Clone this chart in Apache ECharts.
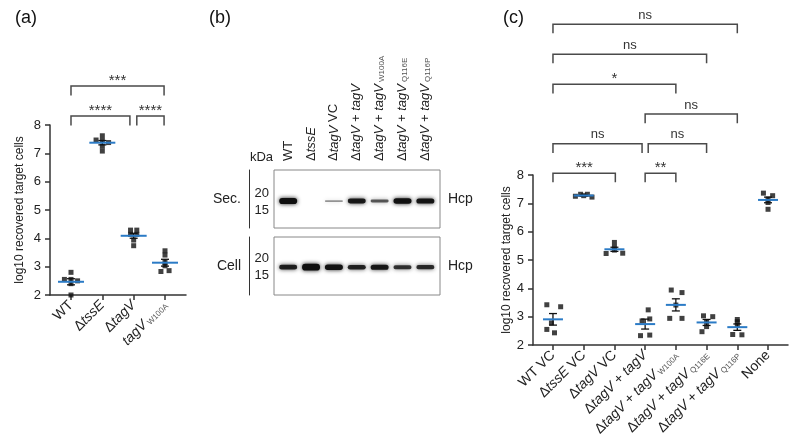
<!DOCTYPE html>
<html><head><meta charset="utf-8">
<script src="https://cdn.jsdelivr.net/npm/echarts@6/dist/echarts.min.js"></script>
<style>html,body{margin:0;padding:0;background:#fff}#c{width:800px;height:446px}</style>
</head><body><div id="c"></div>
<script>
const FF = '"Liberation Sans", Arial, Helvetica, sans-serif';
const BLUE = '#2b7bc6';

// ---------- Panel (a) ----------
const catsA = ['WT', 'Δ*tssE*', 'Δ*tagV*', '*tagV*_W100A'];
const valsA = [
  [2.80, 2.55, 2.55, 2.50, 2.40, 2.00],
  [7.62, 7.47, 7.45, 7.38, 7.25, 7.08],
  [4.29, 4.29, 4.14, 4.14, 3.94, 3.74],
  [3.56, 3.41, 3.15, 3.03, 2.83, 2.86]
];
const jitterA = [
  [0, -0.21, 0, 0.21, 0, 0],
  [0, -0.2, 0, 0.2, 0, 0],
  [-0.1, 0.1, -0.1, 0.1, 0, 0],
  [0, 0, 0, 0, -0.13, 0.13]
];
const bracketsA = [
  [1, 2.88, 8.32, '****'],
  [3.1, 3.97, 8.32, '****'],
  [1, 3.97, 9.38, '***']
];

// ---------- Panel (b) ----------
const lanesB = ['WT', 'Δ*tssE*', 'Δ*tagV* VC', 'Δ*tagV* + *tagV*', 'Δ*tagV* + *tagV*_W100A', 'Δ*tagV* + *tagV*_Q116E', 'Δ*tagV* + *tagV*_Q116P'];
const secIntensity = [0.95, 0, 0.32, 0.82, 0.55, 0.88, 0.85];
const cellIntensity = [0.8, 1.0, 0.88, 0.78, 0.84, 0.7, 0.74];
const markerKDa = [20, 15];
const hcpKDa = [17.7, 17.3];
const rowsB = ['Sec.', 'Cell'];

// ---------- Panel (c) ----------
const catsC = ['WT VC', 'Δ*tssE* VC', 'Δ*tagV* VC', 'Δ*tagV* + *tagV*', 'Δ*tagV* + *tagV*_W100A', 'Δ*tagV* + *tagV*_Q116E', 'Δ*tagV* + *tagV*_Q116P', 'None'];
const valsC = [
  [3.42, 3.35, 2.78, 2.55, 2.43],
  [7.25, 7.32, 7.27, 7.32, 7.22],
  [5.62, 5.45, 5.35, 5.23, 5.24],
  [3.24, 2.92, 2.85, 2.33, 2.35],
  [3.94, 3.85, 3.41, 2.94, 2.94],
  [3.03, 3.00, 2.83, 2.65, 2.47],
  [2.90, 2.82, 2.70, 2.37, 2.36],
  [7.36, 7.27, 7.15, 7.03, 6.79]
];
const jitterC = [
  [-0.2, 0.25, -0.05, -0.2, 0.05],
  [-0.27, -0.1, 0, 0.12, 0.27],
  [0, 0, 0, -0.27, 0.27],
  [0.1, 0.15, -0.1, -0.15, 0.15],
  [-0.15, 0.2, 0, -0.2, 0.2],
  [-0.1, 0.2, 0, 0, -0.15],
  [0, 0, 0, -0.15, 0.15],
  [-0.15, 0.15, 0, 0, 0]
];
const bracketsC = [
  [1, 3.03, 8.06, '***'],
  [4, 5, 8.06, '**'],
  [1, 3.9, 9.1, 'ns'],
  [4.1, 6, 9.1, 'ns'],
  [4, 7, 10.15, 'ns'],
  [1, 5, 11.2, '*'],
  [1, 6, 12.26, 'ns'],
  [1, 7, 13.32, 'ns']
];
const yTicks = [2, 3, 4, 5, 6, 7, 8];
const yName = 'log10 recovered target cells';

// ---------- helpers ----------
function toRich(s) {
  let sub = '';
  const ui = s.indexOf('_');
  if (ui >= 0) { sub = s.slice(ui + 1); s = s.slice(0, ui); }
  let out = '';
  s.split('*').forEach((p, k) => { if (p) out += '{' + (k % 2 ? 'i' : 'n') + '|' + p + '}'; });
  if (sub) out += '{s|' + sub + '}';
  return out;
}
function richStyles(fs) {
  return {
    n: { fontSize: fs, color: '#222', fontFamily: FF },
    i: { fontSize: fs, color: '#222', fontFamily: FF, fontStyle: 'italic' },
    s: { fontSize: Math.round(fs * 0.58), color: '#555', fontFamily: FF, verticalAlign: 'bottom', padding: [0, 0, 0, 2] }
  };
}
function stats(a) {
  const n = a.length, m = a.reduce((x, y) => x + y, 0) / n;
  const sd = Math.sqrt(a.reduce((x, y) => x + (y - m) * (y - m), 0) / (n - 1));
  return [m, sd / Math.sqrt(n)];
}
function pointData(vals, jit) {
  const d = [];
  vals.forEach((g, i) => g.forEach((v, j) => d.push([i + 1 + jit[i][j], v])));
  return d;
}
function meanSeries(xi, yi, vals, hw) {
  return {
    type: 'custom', xAxisIndex: xi, yAxisIndex: yi, z: 4, silent: true,
    data: vals.map((g, i) => { const s = stats(g); return [i + 1, s[0], s[1]]; }),
    renderItem: (p, api) => {
      const x = api.value(0), m = api.value(1), e = api.value(2);
      const pm = api.coord([x, m]), pt = api.coord([x, m + e]), pb = api.coord([x, m - e]);
      const cw = 4, st = { stroke: '#111', lineWidth: 1.3 };
      return { type: 'group', children: [
        { type: 'line', shape: { x1: pt[0], y1: pt[1], x2: pb[0], y2: pb[1] }, style: st },
        { type: 'line', shape: { x1: pt[0] - cw, y1: pt[1], x2: pt[0] + cw, y2: pt[1] }, style: st },
        { type: 'line', shape: { x1: pb[0] - cw, y1: pb[1], x2: pb[0] + cw, y2: pb[1] }, style: st },
        { type: 'line', shape: { x1: pm[0] - hw, y1: pm[1], x2: pm[0] + hw, y2: pm[1] }, style: { stroke: BLUE, lineWidth: 2 } }
      ]};
    }
  };
}
function bracketSeries(xi, yi, list, drop) {
  return {
    type: 'custom', xAxisIndex: xi, yAxisIndex: yi, clip: false, silent: true, z: 5,
    data: list.map(b => [b[0], b[1], b[2]]),
    encode: { x: [0, 1], y: 2 },
    renderItem: (p, api) => {
      const b = list[p.dataIndex];
      const a0 = api.coord([b[0], b[2] - drop]), a1 = api.coord([b[0], b[2]]);
      const a2 = api.coord([b[1], b[2]]), a3 = api.coord([b[1], b[2] - drop]);
      const star = b[3].indexOf('*') >= 0;
      return { type: 'group', children: [
        { type: 'polyline', shape: { points: [a0, a1, a2, a3] }, style: { stroke: '#4a4a4a', lineWidth: 1.5, fill: null } },
        { type: 'text', x: (a1[0] + a2[0]) / 2, y: a1[1] - (star ? 5 : 9),
          style: { text: b[3], fill: '#333', font: (star ? '15px ' : '13px ') + FF, align: 'center', verticalAlign: 'middle' } }
      ]};
    }
  };
}
function bandSeries(xi, yi, intens, kda) {
  return {
    type: 'custom', xAxisIndex: xi, yAxisIndex: yi, silent: true, z: 3,
    data: intens.map((v, i) => [i + 1, kda, v]),
    renderItem: (p, api) => {
      const v = api.value(2);
      if (v <= 0) return null;
      const c = api.coord([api.value(0), api.value(1)]);
      const w = 18, h = 1.2 + 5.5 * v * v;
      const a = Math.min(1, 0.1 + v);
      return { type: 'rect', shape: { x: c[0] - w / 2, y: c[1] - h / 2, width: w, height: h, r: h / 2 },
        style: { fill: 'rgba(15,15,15,' + a + ')', shadowBlur: 4, shadowColor: 'rgba(0,0,0,' + (a * 0.9) + ')' } };
    }
  };
}
const axisLineStyle = { lineStyle: { color: '#333', width: 1.5 } };
function catXAxis(grid, cats, min, max) {
  const idx = cats.map((c, i) => i + 1);
  return {
    gridIndex: grid, type: 'value', min: min, max: max, splitLine: { show: false },
    axisLine: axisLineStyle,
    axisTick: { customValues: idx, length: 5, lineStyle: { color: '#333', width: 1.5 } },
    axisLabel: { customValues: idx, rotate: 45, margin: 8, formatter: v => toRich(cats[Math.round(v) - 1]), rich: richStyles(14) }
  };
}
function valYAxis(grid, gap) {
  return {
    gridIndex: grid, type: 'value', min: 2, max: 8, interval: 1, splitLine: { show: false },
    axisLine: { show: true, lineStyle: { color: '#333', width: 1.5 } },
    axisTick: { show: true, length: 5, lineStyle: { color: '#333', width: 1.5 } },
    axisLabel: { margin: 9, color: '#222', fontSize: 13, fontFamily: FF },
    name: yName, nameLocation: 'middle', nameGap: gap,
    nameTextStyle: { fontSize: 12, color: '#222', fontFamily: FF }
  };
}
function kdaYAxis(grid, min, max, withName) {
  return {
    gridIndex: grid, type: 'value', min: min, max: max, splitLine: { show: false },
    axisLine: { show: false }, axisTick: { show: false },
    axisLabel: { customValues: markerKDa, margin: 5, color: '#222', fontSize: 13, fontFamily: FF },
    name: withName ? 'kDa' : '', nameLocation: 'end', nameGap: 6,
    nameTextStyle: { fontSize: 13, color: '#222', fontFamily: FF, align: 'right', verticalAlign: 'bottom', padding: [0, 1, 0, 0] }
  };
}
function rowYAxis(grid, name) {
  return {
    gridIndex: grid, type: 'value', min: 0, max: 1, position: 'left', offset: 25, splitLine: { show: false },
    axisLine: { show: true, lineStyle: { color: '#333', width: 1 } }, axisTick: { show: false }, axisLabel: { show: false },
    name: name, nameLocation: 'middle', nameRotate: 0, nameGap: 8,
    nameTextStyle: { fontSize: 14, color: '#222', fontFamily: FF }
  };
}
function hcpYAxis(grid) {
  return {
    gridIndex: grid, type: 'value', min: 0, max: 1, position: 'right', splitLine: { show: false },
    axisLine: { show: false }, axisTick: { show: false }, axisLabel: { show: false },
    name: 'Hcp', nameLocation: 'middle', nameRotate: 0, nameGap: 8,
    nameTextStyle: { fontSize: 14, color: '#222', fontFamily: FF }
  };
}
const laneIdx = lanesB.map((l, i) => i + 1);

const option = {
  backgroundColor: '#fff',
  animation: false,
  title: [
    { text: '(a)', left: 10, top: 4, textStyle: { fontSize: 18, fontWeight: 'normal', color: '#111', fontFamily: FF } },
    { text: '(b)', left: 204, top: 4, textStyle: { fontSize: 18, fontWeight: 'normal', color: '#111', fontFamily: FF } },
    { text: '(c)', left: 498, top: 4, textStyle: { fontSize: 18, fontWeight: 'normal', color: '#111', fontFamily: FF } }
  ],
  grid: [
    { left: 50, top: 125, width: 136, height: 170 },
    { left: 274, top: 170, width: 166, height: 58, show: true, borderColor: '#888', borderWidth: 1, backgroundColor: '#fff' },
    { left: 274, top: 237, width: 166, height: 58, show: true, borderColor: '#888', borderWidth: 1, backgroundColor: '#fff' },
    { left: 533, top: 175, width: 255, height: 170 }
  ],
  xAxis: [
    catXAxis(0, catsA, 0.33, 4.67),
    { gridIndex: 1, type: 'value', min: 0.38, max: 7.64, position: 'top', splitLine: { show: false },
      axisLine: { show: false }, axisTick: { show: false },
      axisLabel: { customValues: laneIdx, rotate: 90, margin: 9, formatter: v => toRich(lanesB[Math.round(v) - 1]), rich: richStyles(13) } },
    { gridIndex: 2, type: 'value', min: 0.38, max: 7.64, show: false },
    catXAxis(3, catsC, 0.35, 8.65)
  ],
  yAxis: [
    valYAxis(0, 24),
    kdaYAxis(1, 9.7, 26.9, true),
    rowYAxis(1, rowsB[0]),
    hcpYAxis(1),
    kdaYAxis(2, 9.2, 26.1, false),
    rowYAxis(2, rowsB[1]),
    hcpYAxis(2),
    valYAxis(3, 20)
  ],
  series: [
    { type: 'scatter', xAxisIndex: 0, yAxisIndex: 0, symbol: 'rect', symbolSize: 5, itemStyle: { color: '#111' }, z: 3, data: pointData(valsA, jitterA) },
    meanSeries(0, 0, valsA, 13),
    bracketSeries(0, 0, bracketsA, 0.34),
    bandSeries(1, 1, secIntensity, hcpKDa[0]),
    bandSeries(2, 4, cellIntensity, hcpKDa[1]),
    { type: 'scatter', xAxisIndex: 3, yAxisIndex: 7, symbol: 'rect', symbolSize: 5, itemStyle: { color: '#111' }, z: 3, data: pointData(valsC, jitterC) },
    meanSeries(3, 7, valsC, 10),
    bracketSeries(3, 7, bracketsC, 0.32)
  ]
};
const chart = echarts.init(document.getElementById('c'), null, { renderer: 'canvas' });
chart.setOption(option);
</script></body></html>
